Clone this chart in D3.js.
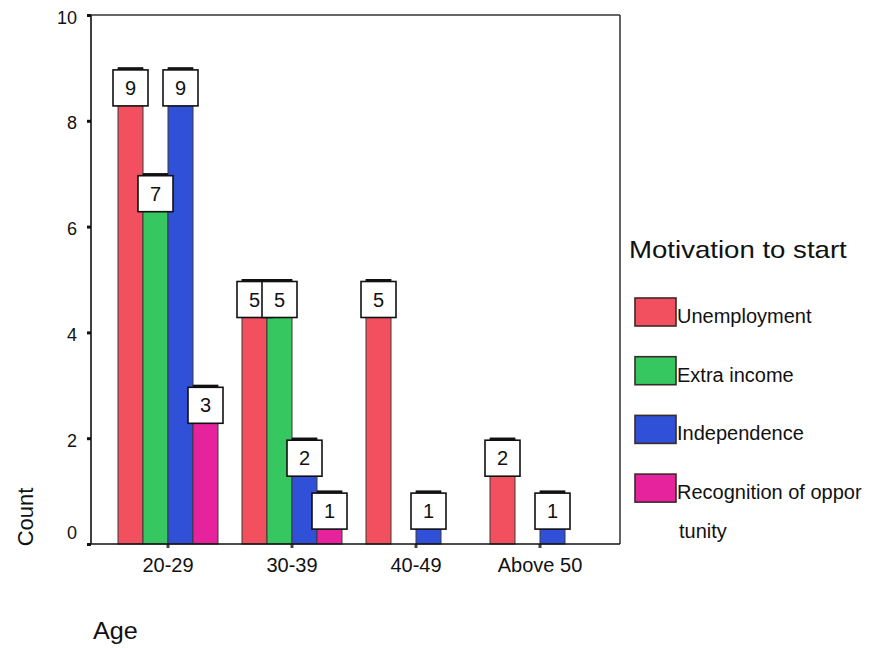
<!DOCTYPE html>
<html>
<head>
<meta charset="utf-8">
<script src="https://cdn.jsdelivr.net/npm/d3@7"></script>
<style>
  html, body { margin: 0; padding: 0; background: #fff; }
  svg { display: block; }
  text { font-family: "Liberation Sans", Arial, sans-serif; fill: #111; }
</style>
</head>
<body>
<svg id="chart" width="873" height="648"></svg>
<script>
// ---- data ----
const categories = ["20-29", "30-39", "40-49", "Above 50"];
const seriesNames = ["Unemployment", "Extra income", "Independence", "Recognition of opportunity"];
const unemployment = [9, 5, 5, 2];
const extraIncome = [7, 5, 0, 0];
const independence = [9, 2, 1, 1];
const recognition = [3, 1, 0, 0];
const yTicks = [0, 2, 4, 6, 8, 10];
const legendLines = [["Unemployment"], ["Extra income"], ["Independence"], ["Recognition of oppor", "tunity"]];
const colors = ["#f2505f", "#36c760", "#3050d8", "#e6229c"];
const xTitle = "Age";
const yTitle = "Count";
const legendTitle = "Motivation to start";

const seriesValues = [unemployment, extraIncome, independence, recognition];

const svg = d3.select("#chart");

const plot = { left: 91, right: 620, top: 15, bottom: 544 };

const y = d3.scaleLinear().domain([0, 10]).range([plot.bottom, plot.top]);
const x = d3.scaleBand().domain(categories).range([106, 602]).padding(0);
const groupWidth = 100;
const xi = d3.scaleBand().domain(seriesNames).range([0, groupWidth]).padding(0);

// frame
svg.append("line").attr("x1", plot.left).attr("x2", plot.right).attr("y1", plot.top).attr("y2", plot.top)
  .attr("stroke", "#333").attr("stroke-width", 1.6);
svg.append("line").attr("x1", plot.right).attr("x2", plot.right).attr("y1", plot.top).attr("y2", plot.bottom)
  .attr("stroke", "#222").attr("stroke-width", 1.4);

// data rows
const rows = [];
categories.forEach((c, ci) => {
  seriesNames.forEach((s, si) => {
    rows.push({ cat: c, series: s, si: si, value: seriesValues[si][ci] });
  });
});
const shown = rows.filter(d => d.value > 0);
const barX = d => x(d.cat) + x.bandwidth() / 2 - groupWidth / 2 + xi(d.series);

// bars
svg.append("g").selectAll("rect").data(shown).join("rect")
  .attr("x", barX)
  .attr("y", d => y(d.value))
  .attr("width", xi.bandwidth())
  .attr("height", d => y(0) - y(d.value))
  .attr("fill", d => colors[d.si])
  .attr("stroke", "#3a3a3a")
  .attr("stroke-width", 1);

// bar top edges (thick)
svg.append("g").selectAll("line").data(shown).join("line")
  .attr("x1", barX)
  .attr("x2", d => barX(d) + xi.bandwidth())
  .attr("y1", d => y(d.value) + 1)
  .attr("y2", d => y(d.value) + 1)
  .attr("stroke", "#111").attr("stroke-width", 3);

// axes
const yAxis = d3.axisLeft(y).tickValues(yTicks).tickSize(4).tickPadding(10).tickFormat(d3.format("d"));
const gy = svg.append("g").attr("transform", `translate(${plot.left},0)`).call(yAxis);
gy.select(".domain").remove();
gy.selectAll(".tick line").attr("stroke", "#111").attr("stroke-width", 3);
gy.selectAll(".tick text").attr("font-size", 18).attr("dy", d => d === 0 ? "-0.33em" : "0.45em")
  .attr("font-family", "Liberation Sans, Arial, sans-serif").attr("fill", "#111");
svg.append("line").attr("x1", plot.left).attr("x2", plot.left).attr("y1", plot.top).attr("y2", plot.bottom)
  .attr("stroke", "#111").attr("stroke-width", 1.6);

const xAxis = d3.axisBottom(x).tickSize(4).tickPadding(10);
const gx = svg.append("g").attr("transform", `translate(0,${plot.bottom})`).call(xAxis);
gx.select(".domain").remove();
gx.selectAll(".tick line").attr("stroke", "#444").attr("stroke-width", 3);
gx.selectAll(".tick text").attr("font-size", 20)
  .attr("font-family", "Liberation Sans, Arial, sans-serif").attr("fill", "#111");
svg.append("line").attr("x1", plot.left).attr("x2", plot.right).attr("y1", plot.bottom).attr("y2", plot.bottom)
  .attr("stroke", "#111").attr("stroke-width", 1.6);

// value label boxes
const boxW = 35, boxH = 36;
const labels = svg.append("g").selectAll("g").data(shown).join("g")
  .attr("transform", d => `translate(${barX(d) + xi.bandwidth() / 2},${y(d.value) + 2})`);
labels.append("rect")
  .attr("x", -boxW / 2).attr("y", 0).attr("width", boxW).attr("height", boxH)
  .attr("fill", "#fff").attr("stroke", "#111").attr("stroke-width", 1.6);
labels.append("text")
  .attr("x", 0).attr("y", boxH / 2).attr("dy", "0.36em")
  .attr("text-anchor", "middle").attr("font-size", 20)
  .text(d => d.value);

// axis titles
svg.append("text").attr("transform", "translate(33,517) rotate(-90)")
  .attr("text-anchor", "middle").attr("font-size", 22).text(yTitle);
svg.append("text").attr("x", 93).attr("y", 639).attr("font-size", 24)
  .attr("transform", "translate(93,0) scale(1.05,1) translate(-93,0)")
  .text(xTitle);

// legend
svg.append("text").attr("x", 629).attr("y", 258).attr("font-size", 24)
  .attr("transform", "translate(629,0) scale(1.15,1) translate(-629,0)")
  .text(legendTitle);
const legendTop = 298, legendStep = 58.7;
const lg = svg.append("g").selectAll("g").data(seriesNames).join("g")
  .attr("transform", (d, i) => `translate(635,${legendTop + i * legendStep})`);
lg.append("rect").attr("width", 41).attr("height", 28)
  .attr("fill", (d, i) => colors[i]).attr("stroke", "#3a2a2a").attr("stroke-width", 1.6);
lg.each(function(d, i) {
  const g = d3.select(this);
  legendLines[i].forEach((line, li) => {
    g.append("text").attr("x", li === 0 ? 42 : 44).attr("y", 25 + li * 39)
      .attr("font-size", 20).text(line);
  });
});
</script>
</body>
</html>
